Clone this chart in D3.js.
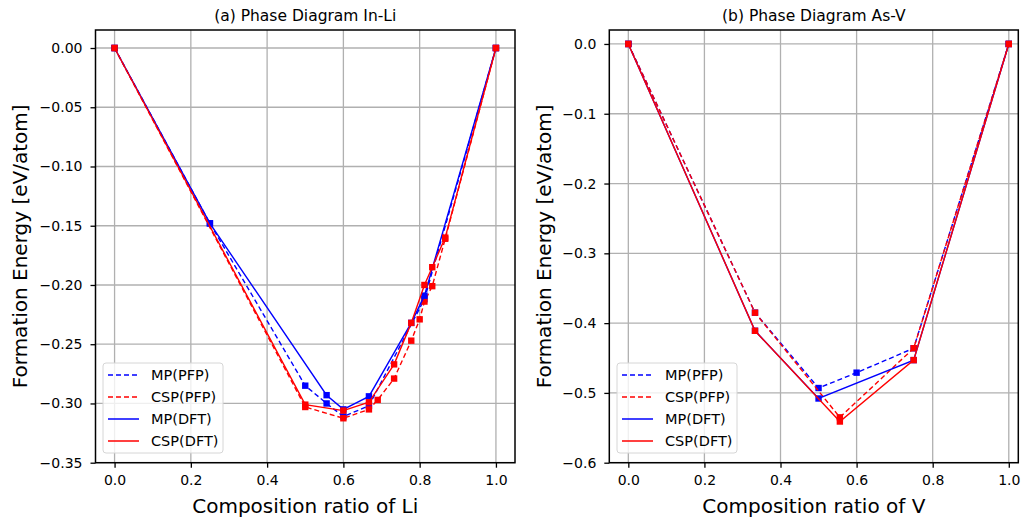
<!DOCTYPE html>
<html>
<head>
<meta charset="utf-8">
<script src="https://cdn.jsdelivr.net/npm/d3@7"></script>
<style>
  body { margin: 0; background: #fff; }
  text { font-family: "DejaVu Sans", sans-serif; fill: #000; }
</style>
</head>
<body>
<script>
// ---- data: (a) In-Li ----
var inliMpPfpX  = [0, 0.25, 0.5, 0.556, 0.6, 0.667, 0.8125, 1];
var inliMpPfpY  = [0, -0.148, -0.285, -0.300, -0.311, -0.302, -0.212, 0];
var inliCspPfpX = [0, 0.5, 0.6, 0.667, 0.69, 0.733, 0.778, 0.8, 0.8125, 0.833, 0.867, 1];
var inliCspPfpY = [0, -0.303, -0.3125, -0.305, -0.297, -0.279, -0.247, -0.229, -0.214, -0.201, -0.161, 0];
var inliMpDftX  = [0, 0.25, 0.556, 0.6, 0.667, 0.778, 0.8125, 1];
var inliMpDftY  = [0, -0.148, -0.293, -0.305, -0.294, -0.232, -0.209, 0];
var inliCspDftX = [0, 0.5, 0.6, 0.667, 0.733, 0.778, 0.8125, 0.833, 0.867, 1];
var inliCspDftY = [0, -0.301, -0.306, -0.299, -0.267, -0.232, -0.200, -0.185, -0.160, 0];

// ---- data: (b) As-V ----
var asvMpPfpX  = [0, 0.333, 0.5, 0.6, 0.75, 1];
var asvMpPfpY  = [0, -0.385, -0.493, -0.471, -0.436, 0];
var asvCspPfpX = [0, 0.333, 0.556, 0.75, 1];
var asvCspPfpY = [0, -0.385, -0.535, -0.436, 0];
var asvMpDftX  = [0, 0.333, 0.5, 0.75, 1];
var asvMpDftY  = [0, -0.411, -0.508, -0.453, 0];
var asvCspDftX = [0, 0.333, 0.556, 0.75, 1];
var asvCspDftY = [0, -0.411, -0.541, -0.453, 0];

var seriesNames = ["MP(PFP)", "CSP(PFP)", "MP(DFT)", "CSP(DFT)"];
var xTicks = [0, 0.2, 0.4, 0.6, 0.8, 1.0];
var yTicksA = [0, -0.05, -0.10, -0.15, -0.20, -0.25, -0.30, -0.35];
var yTicksB = [0, -0.1, -0.2, -0.3, -0.4, -0.5, -0.6];

var styles = [
  {color: "#0000ff", dash: "5,3"},
  {color: "#ff0000", dash: "5,3"},
  {color: "#0000ff", dash: null},
  {color: "#ff0000", dash: null}
];

function zip(xs, ys) { return xs.map(function(x, i) { return [x, ys[i]]; }); }

var svg = d3.select("body").append("svg")
    .attr("width", 1023)
    .attr("height", 519);

function drawPanel(opt) {
  var x = d3.scaleLinear().domain(opt.xDomain).range([opt.left, opt.right]);
  var y = d3.scaleLinear().domain(opt.yDomain).range([opt.bottom, opt.top]);
  var g = svg.append("g");

  // grid
  g.selectAll(".gx").data(xTicks).enter().append("line")
      .attr("x1", function(d) { return x(d); }).attr("x2", function(d) { return x(d); })
      .attr("y1", opt.top).attr("y2", opt.bottom)
      .attr("stroke", "#b0b0b0").attr("stroke-width", 1.3);
  g.selectAll(".gy").data(opt.yTicks).enter().append("line")
      .attr("x1", opt.left).attr("x2", opt.right)
      .attr("y1", function(d) { return y(d); }).attr("y2", function(d) { return y(d); })
      .attr("stroke", "#b0b0b0").attr("stroke-width", 1.3);

  var line = d3.line().x(function(d) { return x(d[0]); }).y(function(d) { return y(d[1]); });

  opt.series.forEach(function(s, i) {
    var st = styles[i];
    g.append("path")
        .attr("d", line(s))
        .attr("fill", "none")
        .attr("stroke", st.color)
        .attr("stroke-width", 1.4)
        .attr("stroke-dasharray", st.dash);
    g.selectAll(".m" + i).data(s).enter().append("rect")
        .attr("x", function(d) { return x(d[0]) - 3.2; })
        .attr("y", function(d) { return y(d[1]) - 3.2; })
        .attr("width", 6.4).attr("height", 6.4)
        .attr("fill", st.color);
  });

  // axes
  var ax = g.append("g")
      .attr("transform", "translate(0," + opt.bottom + ")")
      .call(d3.axisBottom(x).tickValues(xTicks).tickFormat(d3.format(".1f")).tickSize(5).tickSizeOuter(0).tickPadding(7));
  var ay = g.append("g")
      .attr("transform", "translate(" + opt.left + ",0)")
      .call(d3.axisLeft(y).tickValues(opt.yTicks).tickFormat(d3.format(opt.yFormat)).tickSize(5).tickSizeOuter(0).tickPadding(8));
  [ax, ay].forEach(function(a) {
    a.select(".domain").remove();
    a.selectAll("line").attr("stroke", "#000").attr("stroke-width", 1.3);
    a.selectAll("text").attr("font-size", 14).attr("font-family", "DejaVu Sans").attr("fill", "#000");
  });

  // frame
  g.append("rect")
      .attr("x", opt.left).attr("y", opt.top)
      .attr("width", opt.right - opt.left).attr("height", opt.bottom - opt.top)
      .attr("fill", "none").attr("stroke", "#000").attr("stroke-width", 1.5);

  // title and labels
  g.append("text")
      .attr("x", (opt.left + opt.right) / 2).attr("y", 21)
      .style("text-anchor", "middle").attr("font-size", 15.5)
      .text(opt.title);
  g.append("text")
      .attr("x", (opt.left + opt.right) / 2).attr("y", 513)
      .style("text-anchor", "middle").attr("font-size", 20)
      .text(opt.xLabel);
  g.append("text")
      .attr("transform", "translate(" + opt.yLabelX + "," + ((opt.top + opt.bottom) / 2) + ") rotate(-90)")
      .style("text-anchor", "middle").attr("font-size", 20)
      .text("Formation Energy [eV/atom]");

  // legend
  var lg = g.append("g").attr("transform", "translate(" + opt.legendX + ",363)");
  lg.append("rect")
      .attr("width", 120).attr("height", 90).attr("rx", 3)
      .attr("fill", "#fff").attr("fill-opacity", 0.8)
      .attr("stroke", "#d6d6d6").attr("stroke-width", 1);
  seriesNames.forEach(function(name, i) {
    var yy = 12 + i * 22;
    lg.append("line")
        .attr("x1", 5).attr("x2", 36).attr("y1", yy).attr("y2", yy)
        .attr("stroke", styles[i].color).attr("stroke-width", 1.5)
        .attr("stroke-dasharray", styles[i].dash);
    lg.append("text")
        .attr("x", 48).attr("y", yy + 5)
        .attr("font-size", 14.5)
        .text(name);
  });
}

drawPanel({
  left: 95.5, right: 515, top: 30, bottom: 462.7,
  xDomain: [-0.05, 1.05], yDomain: [-0.35, 0.0152],
  yTicks: yTicksA, yFormat: ".2f",
  title: "(a) Phase Diagram In-Li",
  xLabel: "Composition ratio of Li",
  yLabelX: 27, legendX: 103,
  series: [zip(inliMpPfpX, inliMpPfpY), zip(inliCspPfpX, inliCspPfpY),
           zip(inliMpDftX, inliMpDftY), zip(inliCspDftX, inliCspDftY)]
});

drawPanel({
  left: 609.3, right: 1018.3, top: 30, bottom: 462.7,
  xDomain: [-0.05, 1.025], yDomain: [-0.6, 0.02],
  yTicks: yTicksB, yFormat: ".1f",
  title: "(b) Phase Diagram As-V",
  xLabel: "Composition ratio of V",
  yLabelX: 551, legendX: 617,
  series: [zip(asvMpPfpX, asvMpPfpY), zip(asvCspPfpX, asvCspPfpY),
           zip(asvMpDftX, asvMpDftY), zip(asvCspDftX, asvCspDftY)]
});
</script>
</body>
</html>
